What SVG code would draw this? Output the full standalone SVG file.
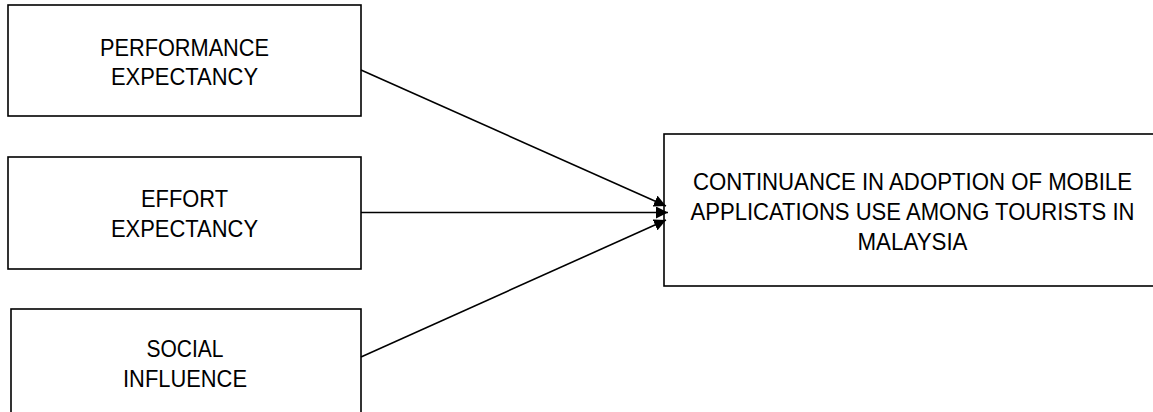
<svg xmlns="http://www.w3.org/2000/svg" width="1153" height="412" viewBox="0 0 1153 412">
<style>
.box{fill:#fff;stroke:#000;stroke-width:1.6}
.lbl{font-family:"Liberation Sans",Arial,sans-serif;font-size:24px;fill:#000;text-anchor:middle}
.con{stroke:#000;stroke-width:1.6;fill:none}
</style>
<defs>
<marker id="ah" viewBox="0 0 12 12" refX="12" refY="6" markerWidth="12" markerHeight="12" markerUnits="userSpaceOnUse" orient="auto">
<path d="M0,0 L12,6 L0,12 Z" fill="#000"/>
</marker>
</defs>
<g id="performance">
<rect class="box" x="8" y="5" width="353" height="111"/>
<text class="lbl" x="184.5" y="56" textLength="169" lengthAdjust="spacingAndGlyphs">PERFORMANCE</text>
<text class="lbl" x="184.5" y="85" textLength="147" lengthAdjust="spacingAndGlyphs">EXPECTANCY</text>
</g>
<g id="effort">
<rect class="box" x="8" y="157" width="353" height="112"/>
<text class="lbl" x="184.5" y="207" textLength="87" lengthAdjust="spacingAndGlyphs">EFFORT</text>
<text class="lbl" x="184.5" y="237" textLength="147" lengthAdjust="spacingAndGlyphs">EXPECTANCY</text>
</g>
<g id="social">
<rect class="box" x="11" y="309" width="350" height="110"/>
<text class="lbl" x="185" y="357" textLength="77" lengthAdjust="spacingAndGlyphs">SOCIAL</text>
<text class="lbl" x="185" y="387" textLength="124" lengthAdjust="spacingAndGlyphs">INFLUENCE</text>
</g>
<g id="continuance">
<rect class="box" x="664" y="134" width="495" height="152"/>
<text class="lbl" x="912.5" y="190" textLength="439" lengthAdjust="spacingAndGlyphs">CONTINUANCE IN ADOPTION OF MOBILE</text>
<text class="lbl" x="912.5" y="220" textLength="444" lengthAdjust="spacingAndGlyphs">APPLICATIONS USE AMONG TOURISTS IN</text>
<text class="lbl" x="912.5" y="250" textLength="110" lengthAdjust="spacingAndGlyphs">MALAYSIA</text>
</g>
<g id="connectors">
<line class="con" x1="361" y1="70" x2="666" y2="206" marker-end="url(#ah)"/>
<line class="con" x1="361" y1="212.5" x2="668" y2="212.5" marker-end="url(#ah)"/>
<line class="con" x1="361" y1="357" x2="666" y2="220" marker-end="url(#ah)"/>
</g>
</svg>
